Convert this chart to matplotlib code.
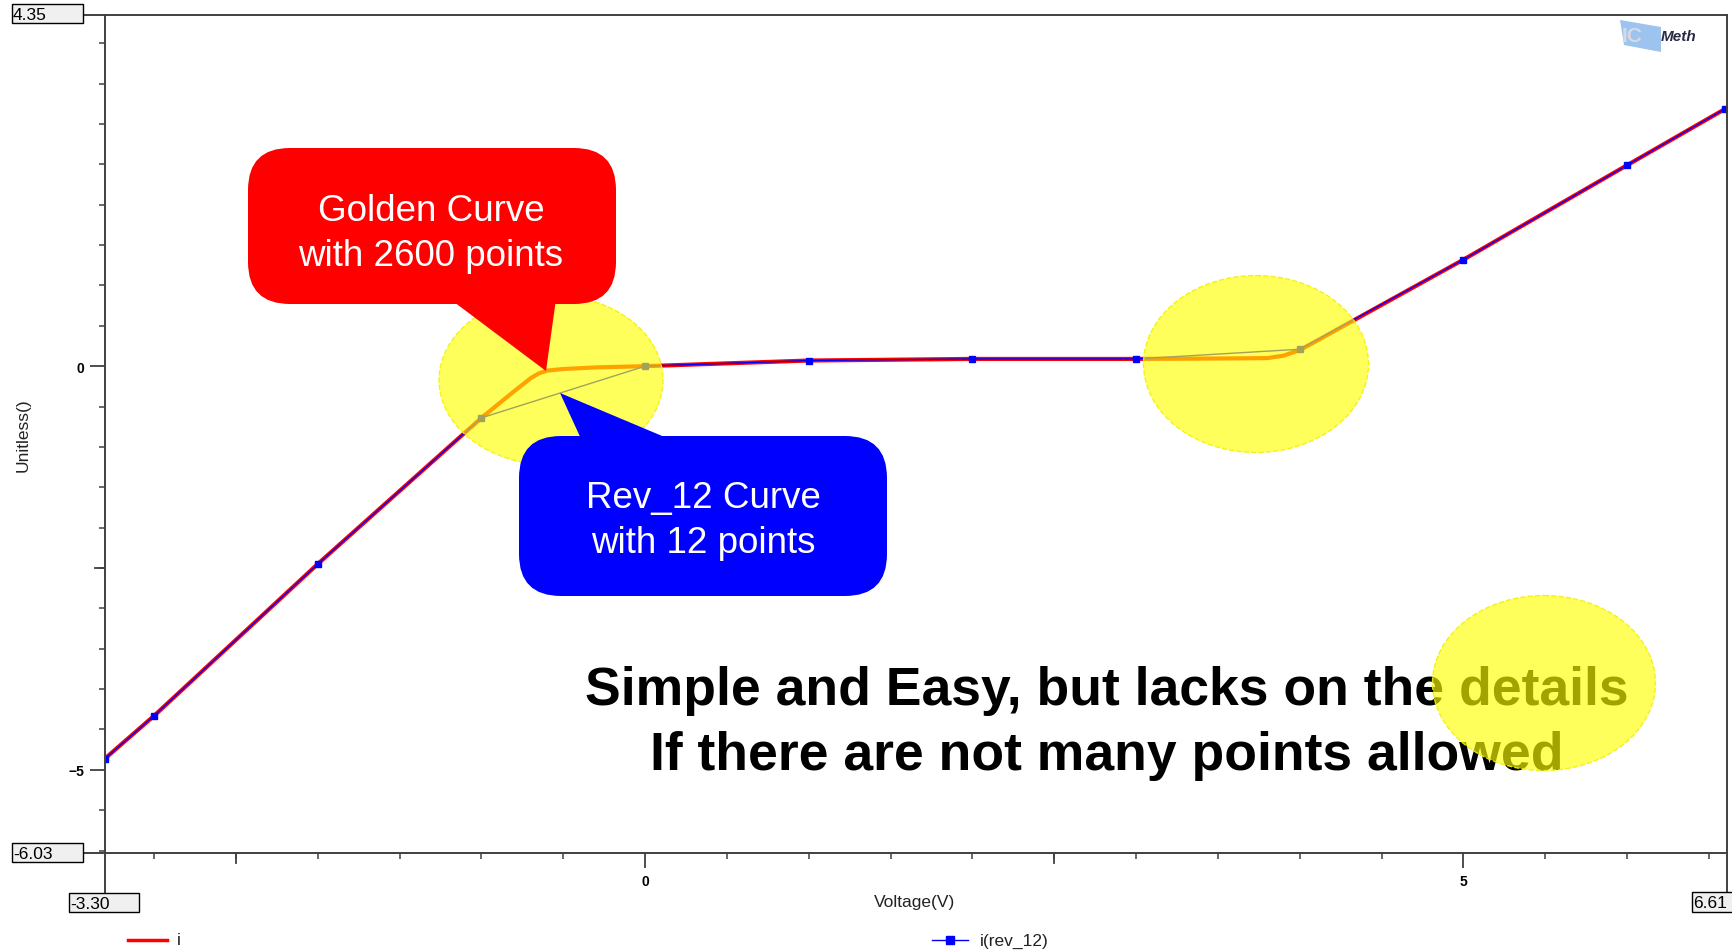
"""Golden curve (2600 pts) vs rev_12 (12 pts) I-V comparison, recreated."""
import matplotlib
matplotlib.use("Agg")
import matplotlib.pyplot as plt
from matplotlib.patches import Ellipse, FancyBboxPatch, Polygon, Rectangle
from matplotlib.lines import Line2D

plt.rcParams["font.family"] = ["Liberation Sans", "DejaVu Sans"]

# golden curve
GOLD_X = [-3.30, -3.0, -2.0, -1.0, -0.8, -0.7, -0.65, -0.6, -0.5, -0.3, 0.0,
          1.0, 2.0, 3.0, 3.5, 3.8, 3.9, 4.0, 4.1, 4.34, 5.0, 6.0, 6.61]
GOLD_Y = [-4.86, -4.33, -2.45, -0.64, -0.31, -0.15, -0.09, -0.055, -0.035, -0.015, 0.0,
          0.07, 0.09, 0.09, 0.095, 0.10, 0.13, 0.20, 0.31, 0.58, 1.32, 2.49, 3.20]

# rev_12 curve, 12 points
REV_X = [-3.3, -3.0, -2.0, -1.0, 0.0, 1.0, 2.0, 3.0, 4.0, 5.0, 6.0, 6.6]
REV_Y = [-4.86, -4.33, -2.45, -0.64, 0.0, 0.07, 0.09, 0.09, 0.21, 1.32, 2.49, 3.19]

XMIN, XMAX = -3.30, 6.61
YMIN, YMAX = -6.03, 4.35

W, H = 1733, 953
AX_COL = "#404040"

fig = plt.figure(figsize=(W / 100, H / 100), dpi=100)
ax = fig.add_axes([105 / W, 1 - 854 / H, 1622 / W, 838 / H])
ax.set_xlim(XMIN, XMAX)
ax.set_ylim(YMIN, YMAX)
for s in ax.spines.values():
    s.set_visible(False)

ax.plot(GOLD_X, GOLD_Y, color="#ff0000", lw=3.0, solid_capstyle="round", zorder=3)
ax.plot(REV_X, REV_Y, color="#0000ff", lw=1.0, marker="s", markersize=4.5, zorder=4)

# ticks
ax.set_xticks([0, 5])
ax.set_yticks([-5, 0])
ax.set_xticks([x * 0.5 for x in range(-6, 14)], minor=True)
ax.set_yticks([y * 0.5 for y in range(-12, 9)], minor=True)
ax.tick_params(which="major", length=11, width=1.3, color=AX_COL, pad=4,
               labelsize=10)
ax.tick_params(which="minor", length=4, width=1.1, color=AX_COL)
for lab in ax.get_xticklabels() + ax.get_yticklabels():
    lab.set_fontweight("bold")
# medium ticks at +-2.5
for xv in (-2.5, 2.5):
    ax.plot([xv, xv], [0, -10 / 838], transform=ax.get_xaxis_transform(),
            color=AX_COL, lw=1.3, clip_on=False)
ax.plot([0, -10 / 1622], [-2.5, -2.5], transform=ax.get_yaxis_transform(),
        color=AX_COL, lw=1.3, clip_on=False)

# overlay in pixel coordinates
ov = fig.add_axes([0, 0, 1, 1])
ov.set_xlim(0, W)
ov.set_ylim(H, 0)
ov.axis("off")
ov.set_zorder(5)
ov.patch.set_alpha(0)

# frame lines (extended like the original tool)
for (x0, y0, x1, y1) in [(85, 16, 1727, 16), (85, 854, 1727, 854),
                         (105, 16, 105, 893), (1727, 16, 1727, 893)]:
    ov.add_line(Line2D([x0, x1], [y0, y1], color=AX_COL, lw=1.4))

# value boxes at the axis ends
for (x0, y0, x1, y1, txt) in [(12, 5, 83, 24, "4.35"), (12, 844, 83, 863, "-6.03"),
                              (69, 894, 139, 913, "-3.30"), (1692, 893, 1745, 913, "6.61")]:
    ov.add_patch(Rectangle((x0, y0), x1 - x0, y1 - y0, facecolor="#f0f0f0",
                           edgecolor="black", lw=1.0, zorder=6))
    ov.text(x0 + 1, (y0 + y1) / 2 + 1, txt, fontsize=12.5, ha="left", va="center",
            color="black", zorder=7)

ov.text(915, 903, "Voltage(V)", fontsize=12.5, ha="center", va="center", color="#222222")
ov.text(23, 435, "Unitless()", fontsize=12.5, ha="center", va="center",
        rotation=90, color="#222222")

# legend
ov.add_line(Line2D([128, 167], [941, 941], color="#ff0000", lw=2.5))
ov.text(177, 941, "i", fontsize=12.5, va="center", color="#222222")
ov.add_line(Line2D([932, 968], [941, 941], color="#0000ff", lw=1.0))
ov.add_line(Line2D([950], [941], color="#0000ff", marker="s", markersize=5.5))
ov.text(980, 941, "i(rev_12)", fontsize=12.5, va="center", color="#222222")

# logo
ov.add_patch(Polygon([(1620, 21), (1661, 28), (1661, 53), (1624, 46)],
                     closed=True, facecolor="#9cc4ee", edgecolor="none", zorder=6))
ov.text(1622, 37, "IC", fontsize=15, fontweight="bold", color="#d8d8e4",
        va="center", ha="left", zorder=7)
ov.text(1661, 37, "Meth", fontsize=11, fontweight="bold", fontstyle="italic",
        color="#2a2a45", va="center", ha="left", zorder=7)

# yellow highlight circles
YEL = dict(facecolor=(1, 1, 0, 0.64), edgecolor=(0.95, 0.95, 0, 0.9),
           lw=1.0, linestyle="--")
ov.add_patch(Ellipse((551, 381), 224, 170, zorder=2, **YEL))
ov.add_patch(Ellipse((1256, 365), 225, 177, zorder=2, **YEL))

# callouts
ov.add_patch(FancyBboxPatch((248, 149), 368, 156,
                            boxstyle="round,pad=0,rounding_size=42",
                            facecolor="#ff0000", edgecolor="none", zorder=3))
ov.add_patch(Polygon([(450, 300), (556, 300), (546, 372)], closed=True,
                     facecolor="#ff0000", edgecolor="none", zorder=3))
ov.text(431, 221, "Golden Curve", fontsize=26.5, color="white", ha="center",
        va="baseline", zorder=4)
ov.text(431, 266, "with 2600 points", fontsize=26.5, color="white", ha="center",
        va="baseline", zorder=4)

ov.add_patch(FancyBboxPatch((519, 437), 368, 160,
                            boxstyle="round,pad=0,rounding_size=42",
                            facecolor="#0000ff", edgecolor="none", zorder=3))
ov.add_patch(Polygon([(582, 442), (674, 442), (560, 394)], closed=True,
                     facecolor="#0000ff", edgecolor="none", zorder=3))
ov.text(703, 508, "Rev_12 Curve", fontsize=26.5, color="white", ha="center",
        va="baseline", zorder=4)
ov.text(703, 553, "with 12 points", fontsize=26.5, color="white", ha="center",
        va="baseline", zorder=4)

# main message
ov.text(1107, 705, "Simple and Easy, but lacks on the details", fontsize=38.5,
        fontweight="bold", color="black", ha="center", va="baseline", zorder=4)
ov.text(1107, 770, "If there are not many points allowed", fontsize=38.5,
        fontweight="bold", color="black", ha="center", va="baseline", zorder=4)
ov.add_patch(Ellipse((1544, 684), 223, 175, zorder=5, **YEL))

fig.savefig("out.png", dpi=100)
